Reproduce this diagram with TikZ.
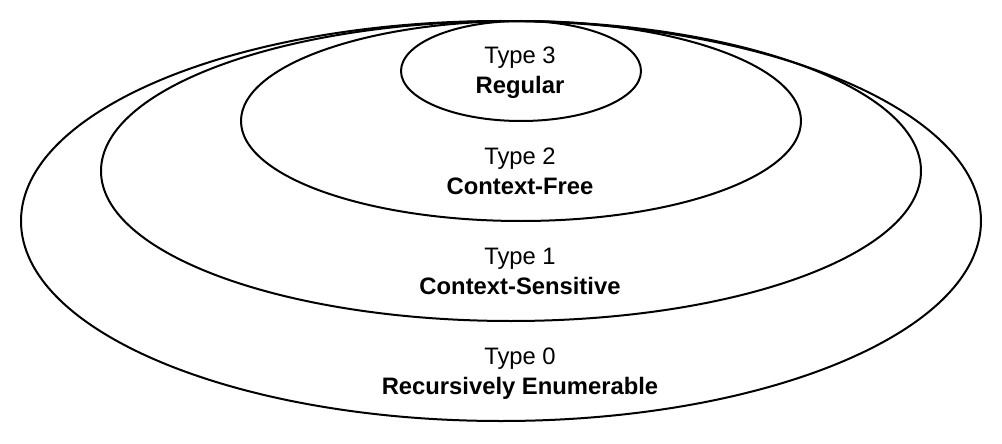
\documentclass[tikz,border=0pt]{standalone}
\usepackage{fontspec}
\setmainfont{Liberation Sans}
\usetikzlibrary{shapes.geometric}
\begin{document}
\begin{tikzpicture}[x=1pt,y=-1pt,
  ring/.style={draw=black,line width=2pt,ellipse,inner sep=0pt,fill=none},
  lbl/.style={anchor=base,inner sep=0pt,font=\fontsize{23.8}{30}\selectfont}]
\useasboundingbox (0,0) rectangle (1002,444);
\node[ring,minimum width=960pt,minimum height=400pt] (t0) at (501,221) {};
\node[ring,minimum width=820pt,minimum height=300pt] (t1) at (511,171) {};
\node[ring,minimum width=560pt,minimum height=200pt] (t2) at (521,121) {};
\node[ring,minimum width=240pt,minimum height=100pt] (t3) at (521,71) {};
\node[lbl] (l3a) at (520,64) {Type 3};
\node[lbl] (l3b) at (520,94) {\textbf{Regular}};
\node[lbl] (l2a) at (520,164) {Type 2};
\node[lbl] (l2b) at (520,194) {\textbf{Context-Free}};
\node[lbl] (l1a) at (520,264) {Type 1};
\node[lbl] (l1b) at (520,294) {\textbf{Context-Sensitive}};
\node[lbl] (l0a) at (520,364) {Type 0};
\node[lbl] (l0b) at (520,394) {\textbf{Recursively Enumerable}};
\end{tikzpicture}
\end{document}
